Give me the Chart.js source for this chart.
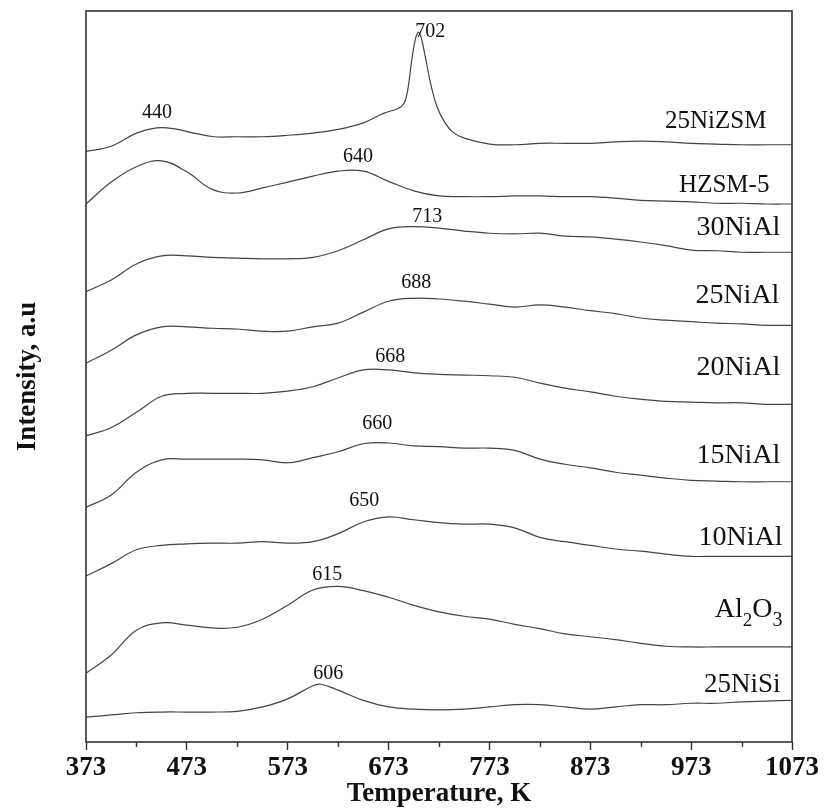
<!DOCTYPE html>
<html><head><meta charset="utf-8">
<script src="https://cdn.jsdelivr.net/npm/chart.js@4.4.1/dist/chart.umd.min.js"></script>
<style>html,body{margin:0;padding:0;background:#fff}#wrap{width:824px;height:809px;position:relative}</style>
</head><body><div id="wrap"><canvas id="c" width="824" height="809"></canvas></div>
<script>
// Temperature grid (K)
const temps = [373,398,423,448,473,498,523,548,573,598,623,648,673,698,723,748,773,798,823,848,873,898,923,948,973,998,1023,1048,1073];
const tempsNiZSM = [373,398,423,443,460,480,500,523,548,573,598,623,648,668,683,688,692,696,700,703,706,710,715,721,729,737,748,773,798,823,848,873,898,923,948,973,998,1023,1048,1073];
const tempsNiSi = [373,398,423,448,473,498,523,548,573,598,606,623,648,673,698,723,748,773,798,823,848,873,898,923,948,973,998,1023,1048,1073];

// Intensity (a.u., stacked profiles)
const ni25ZSM = [80.8,81.5,83.3,84.0,83.9,83.3,82.8,82.8,82.8,83.0,83.3,83.8,84.7,86.0,86.7,87.3,89.2,93.3,96.4,97.1,96.0,93.3,89.9,86.9,84.7,83.4,82.6,81.8,81.7,81.9,81.9,81.9,82.1,82.2,82.1,81.9,81.8,81.7,81.7,81.7];
const hzsm5 = [73.6,76.6,78.7,79.5,78.0,75.6,75.1,75.8,76.6,77.4,78.1,78.1,76.7,75.4,74.7,74.6,74.6,74.7,74.7,74.6,74.6,74.4,74.1,74.0,73.9,73.7,73.7,73.6,73.6];
const ni30Al = [61.6,63.2,65.4,66.5,66.5,66.3,66.2,66.1,66.1,66.3,67.2,68.7,70.2,70.5,70.3,69.9,69.6,69.5,69.6,69.2,69.1,68.8,68.4,67.9,67.3,67.2,67.0,67.0,67.0];
const ni25Al = [51.8,53.6,55.7,56.8,56.8,56.6,56.5,56.2,56.2,56.8,57.3,58.8,60.3,60.7,60.6,60.3,59.9,59.5,59.8,59.5,59.0,58.6,58.0,57.7,57.5,57.3,57.2,57.0,57.0];
const ni20Al = [41.9,43.0,45.1,47.3,47.7,47.7,47.7,47.7,48.0,48.6,49.8,50.9,50.9,50.5,50.3,50.2,50.1,49.9,49.1,48.4,47.9,47.3,46.9,46.6,46.5,46.4,46.4,46.2,46.2];
const ni15Al = [32.1,33.8,36.9,38.6,38.7,38.7,38.7,38.6,38.2,38.9,39.7,40.8,40.9,40.5,40.4,40.2,40.2,39.9,38.7,38.0,37.5,36.9,36.5,36.1,35.8,35.7,35.6,35.6,35.6];
const ni10Al = [22.7,24.4,26.3,26.9,27.1,27.2,27.2,27.4,27.2,27.4,28.5,30.1,30.8,30.4,30.0,29.8,29.8,29.3,28.0,27.4,26.9,26.4,26.1,25.7,25.4,25.4,25.4,25.4,25.4];
const al2o3 = [9.4,11.9,15.3,16.3,16.0,15.6,15.7,16.8,18.7,20.8,21.3,20.7,19.8,18.7,17.8,17.2,16.8,16.1,15.5,14.8,14.4,14.0,13.5,13.1,13.0,13.0,13.0,13.0,13.0];
const ni25Si = [3.4,3.7,4.0,4.1,4.1,4.1,4.2,4.8,5.9,7.7,7.9,7.1,5.7,4.8,4.5,4.4,4.5,4.8,5.1,5.1,4.8,4.5,4.8,5.1,5.1,5.3,5.3,5.5,5.6,5.7];

// Axis ticks
const majorTicks = [373,473,573,673,773,873,973,1073];
const minorTicks = [423,523,623,723,823,923,1023];

// Peak annotations (text, temperature, intensity of baseline)
const peakText = ['702','440','640','713','688','668','660','650','615','606'];
const peakT    = [714.3,443.4,642.8,711.3,700.4,674.6,661.7,648.8,612.1,613.1];
const peakI    = [96.4,85.4,79.3,71.1,62.1,52.0,42.8,32.3,22.2,8.6];

// Sample names (right-aligned end at temperature, baseline intensity)
const sampleNames = ['25NiZSM','HZSM-5','30NiAl','25NiAl','20NiAl','15NiAl','10NiAl','Al2O3','25NiSi'];
const nameT = [1047.6,1050.6,1061.5,1060.5,1061.5,1061.5,1063.5,1063.5,1061.5];
const nameI = [84.0,75.2,69.4,60.1,50.2,38.2,26.9,17.1,6.8];
const nameSize = [25,25,28,28,28,28,28,28,27];

const seriesDefs = [
  [tempsNiZSM, ni25ZSM, '25NiZSM'],
  [temps, hzsm5, 'HZSM-5'],
  [temps, ni30Al, '30NiAl'],
  [temps, ni25Al, '25NiAl'],
  [temps, ni20Al, '20NiAl'],
  [temps, ni15Al, '15NiAl'],
  [temps, ni10Al, '10NiAl'],
  [temps, al2o3, 'Al2O3'],
  [tempsNiSi, ni25Si, '25NiSi']
];

const SERIF = '"Liberation Serif", "Times New Roman", serif';

const framePlugin = {
  id: 'frame',
  afterDraw(chart) {
    const {ctx, chartArea: a, scales: {x}} = chart;
    ctx.save();
    ctx.strokeStyle = '#333';
    ctx.lineWidth = 1.6;
    ctx.strokeRect(a.left, a.top, a.right - a.left, a.bottom - a.top);
    ctx.lineWidth = 1.4;
    ctx.beginPath();
    minorTicks.forEach(t => {
      const px = Math.round(x.getPixelForValue(t)) + 0.5;
      ctx.moveTo(px, a.bottom);
      ctx.lineTo(px, a.bottom + 5);
    });
    ctx.stroke();
    ctx.restore();
  }
};

const labelPlugin = {
  id: 'labels',
  afterDatasetsDraw(chart) {
    const {ctx, scales: {x, y}} = chart;
    ctx.save();
    ctx.fillStyle = '#111';
    ctx.textBaseline = 'alphabetic';
    ctx.textAlign = 'center';
    ctx.font = '20px ' + SERIF;
    peakText.forEach((t, i) => {
      ctx.fillText(t, x.getPixelForValue(peakT[i]), y.getPixelForValue(peakI[i]));
    });
    sampleNames.forEach((name, i) => {
      const rx = x.getPixelForValue(nameT[i]);
      const by = y.getPixelForValue(nameI[i]);
      const size = nameSize[i];
      if (name === 'Al2O3') {
        const parts = [['Al', size, 0], ['2', 19, 9], ['O', size, 0], ['3', 20, 9]];
        let total = 0;
        parts.forEach(p => { ctx.font = p[1] + 'px ' + SERIF; total += ctx.measureText(p[0]).width; });
        let cx = rx - total;
        ctx.textAlign = 'left';
        parts.forEach(p => {
          ctx.font = p[1] + 'px ' + SERIF;
          ctx.fillText(p[0], cx, by + p[2]);
          cx += ctx.measureText(p[0]).width;
        });
      } else {
        ctx.textAlign = 'right';
        ctx.font = size + 'px ' + SERIF;
        ctx.fillText(name, rx, by);
      }
    });
    ctx.restore();
  }
};

new Chart(document.getElementById('c'), {
  type: 'line',
  data: {
    datasets: seriesDefs.map(([tx, vals, name]) => ({
      label: name,
      data: tx.map((t, i) => ({x: t, y: vals[i]})),
      borderColor: '#444',
      borderWidth: 1.2,
      pointRadius: 0,
      fill: false,
      tension: 0.4
    }))
  },
  options: {
    responsive: false,
    animation: false,
    devicePixelRatio: 1,
    layout: {padding: {top: 11, right: 32, left: 0, bottom: 0}},
    plugins: {legend: {display: false}, tooltip: {enabled: false}},
    scales: {
      x: {
        type: 'linear', min: 373, max: 1073,
        afterBuildTicks: s => { s.ticks = majorTicks.map(v => ({value: v})); },
        afterFit: s => { s.height = 67; },
        ticks: {
          callback: v => String(v),
          font: {family: SERIF, size: 27, weight: 'bold'},
          color: '#111', padding: 2, maxRotation: 0, autoSkip: false
        },
        grid: {drawOnChartArea: false, drawTicks: true, tickLength: 8, tickWidth: 1.4, tickColor: '#333'},
        border: {display: false},
        title: {display: true, text: 'Temperature, K', color: '#111',
          font: {family: SERIF, size: 27, weight: 'bold', lineHeight: 1.1},
          padding: {top: 0, bottom: 0}}
      },
      y: {
        min: 0, max: 100,
        afterFit: s => { s.width = 86; },
        ticks: {display: false},
        grid: {display: false, drawTicks: false},
        border: {display: false},
        title: {display: true, text: 'Intensity, a.u', color: '#111',
          font: {family: SERIF, size: 27, weight: 'bold'},
          padding: {top: 12, bottom: 0}}
      }
    }
  },
  plugins: [framePlugin, labelPlugin]
});
</script>
</body></html>
